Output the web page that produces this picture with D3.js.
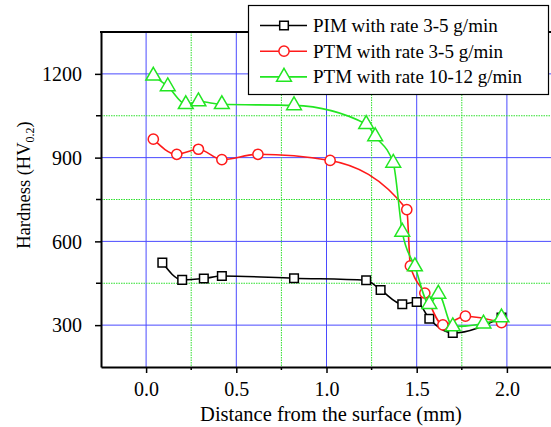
<!DOCTYPE html>
<html>
<head>
<meta charset="utf-8">
<script src="https://cdn.jsdelivr.net/npm/d3@7"></script>
<style>
  body { margin: 0; background: #fff; }
</style>
</head>
<body>
<script>
var width = 551;
var height = 427;
var font = "'Liberation Serif', Tinos, 'Times New Roman', Times, 'Nimbus Roman', 'DejaVu Serif', serif";

// data
var seriesNames = ["PIM with rate 3-5 g/min", "PTM with rate 3-5 g/min", "PTM with rate 10-12 g/min"];
var pimX = [0.09, 0.20, 0.32, 0.42, 0.82, 1.22, 1.30, 1.42, 1.50, 1.57, 1.70, 1.97];
var pimY = [524, 462, 467, 476, 468, 461, 426, 375, 383, 323, 272, 327];
var ptmLowX = [0.04, 0.17, 0.29, 0.42, 0.62, 1.02, 1.445, 1.465, 1.545, 1.645, 1.77, 1.97];
var ptmLowY = [966, 912, 930, 893, 912, 890, 714, 512, 415, 301, 332, 309];
var ptmHighX = [0.04, 0.12, 0.22, 0.29, 0.42, 0.82, 1.22, 1.27, 1.37, 1.42, 1.49, 1.57, 1.62, 1.70, 1.87, 1.97];
var ptmHighY = [1193, 1155, 1091, 1101, 1091, 1087, 1020, 976, 881, 634, 510, 375, 412, 295, 305, 327];
var xTicks = [0, 0.5, 1, 1.5, 2];
var xMinor = [0.25, 0.75, 1.25, 1.75];
var yTicks = [300, 600, 900, 1200];
var yMinor = [450, 750, 1050];

var colors = ["#000000", "#ff1a1a", "#22e622"];
var shapes = [d3.symbolSquare, d3.symbolCircle, d3.symbolTriangle];
var sizes = [74, 82, 95];

var svg = d3.select("body").append("svg").attr("width", width).attr("height", height)
    .style("font-family", font);

var x = d3.scaleLinear().domain([-0.25, 2.25]).range([101, 552]);
var y = d3.scaleLinear().domain([150, 1350]).range([367, 32]);

// grid
svg.selectAll(".gx").data(xTicks).enter().append("line")
    .attr("x1", d => x(d)).attr("x2", d => x(d)).attr("y1", y(1350)).attr("y2", y(150))
    .attr("stroke", "#4a4aff").attr("stroke-width", 1);
svg.selectAll(".gy").data(yTicks).enter().append("line")
    .attr("x1", x(-0.25)).attr("x2", x(2.25)).attr("y1", d => y(d)).attr("y2", d => y(d))
    .attr("stroke", "#4a4aff").attr("stroke-width", 1);
svg.selectAll(".gxm").data(xMinor).enter().append("line")
    .attr("x1", d => x(d)).attr("x2", d => x(d)).attr("y1", y(1350)).attr("y2", y(150))
    .attr("stroke", "#2ee02e").attr("stroke-width", 1).attr("stroke-dasharray", "1.5,1");
svg.selectAll(".gym").data(yMinor).enter().append("line")
    .attr("x1", x(-0.25)).attr("x2", x(2.25)).attr("y1", d => y(d)).attr("y2", d => y(d))
    .attr("stroke", "#2ee02e").attr("stroke-width", 1).attr("stroke-dasharray", "1.5,1");

// axes
var xAxis = svg.append("g").attr("transform", "translate(0," + y(150) + ")")
    .call(d3.axisBottom(x).tickValues(xTicks).tickFormat(d3.format(".1f")).tickSize(6).tickSizeOuter(0));
var yAxis = svg.append("g").attr("transform", "translate(" + x(-0.25) + ",0)")
    .call(d3.axisLeft(y).tickValues(yTicks).tickFormat(d3.format("d")).tickSize(6).tickSizeOuter(0));
[xAxis, yAxis].forEach(function (g) {
    g.attr("font-family", null);
    g.select(".domain").attr("stroke", "#000").attr("stroke-width", 2);
    g.selectAll(".tick line").attr("stroke", "#000").attr("stroke-width", 1.5);
    g.selectAll(".tick text").style("font-family", font).attr("font-size", 20).attr("fill", "#000");
});
xAxis.selectAll(".tick text").attr("dy", "1.0em");
yAxis.selectAll(".tick text").attr("x", -19).attr("dy", "0.34em");
xAxis.selectAll(".minor").data(xMinor).enter().append("line")
    .attr("x1", d => x(d)).attr("x2", d => x(d)).attr("y1", 0).attr("y2", 3)
    .attr("stroke", "#000").attr("stroke-width", 1.5);
yAxis.selectAll(".minor").data(yMinor).enter().append("line")
    .attr("x1", -5).attr("x2", 0).attr("y1", d => y(d)).attr("y2", d => y(d))
    .attr("stroke", "#000").attr("stroke-width", 1.5);
// top frame
svg.append("line").attr("x1", x(-0.25) - 1).attr("x2", x(2.25)).attr("y1", y(1350)).attr("y2", y(1350))
    .attr("stroke", "#000").attr("stroke-width", 2);

// axis titles
svg.append("text").attr("x", 331).attr("y", 421).attr("text-anchor", "middle")
    .attr("font-size", 20.5).text("Distance from the surface (mm)");
var yt = svg.append("text").attr("transform", "translate(30,185) rotate(-90)")
    .attr("text-anchor", "middle").attr("font-size", 18.5);
yt.append("tspan").text("Hardness (HV");
yt.append("tspan").attr("font-size", 12).attr("dy", 4).text("0.2");
yt.append("tspan").attr("dy", -4).text(")");

// series
var series = [
    { xs: pimX, ys: pimY },
    { xs: ptmLowX, ys: ptmLowY },
    { xs: ptmHighX, ys: ptmHighY }
];
var line = d3.line().x(d => x(d[0])).y(d => y(d[1])).curve(d3.curveMonotoneX);

series.forEach(function (s, i) {
    var pts = s.xs.map(function (v, j) { return [v, s.ys[j]]; });
    svg.append("path").datum(pts).attr("d", line)
        .attr("fill", "none").attr("stroke", colors[i]).attr("stroke-width", 1.6);
    svg.selectAll(".m" + i).data(pts).enter().append("path")
        .attr("d", d3.symbol().type(shapes[i]).size(sizes[i]))
        .attr("transform", d => "translate(" + x(d[0]) + "," + y(d[1]) + ")")
        .attr("fill", "#fff").attr("stroke", colors[i]).attr("stroke-width", 1.5);
});

// legend
var leg = svg.append("g");
leg.append("rect").attr("x", 248.5).attr("y", 5.5).attr("width", 300).attr("height", 89)
    .attr("fill", "#fff").attr("stroke", "#000").attr("stroke-width", 1.2);
seriesNames.forEach(function (name, i) {
    var ly = 25.5 + i * 25.7;
    leg.append("line").attr("x1", 260).attr("x2", 307).attr("y1", ly).attr("y2", ly)
        .attr("stroke", colors[i]).attr("stroke-width", 1.6);
    leg.append("path").attr("d", d3.symbol().type(shapes[i]).size(sizes[i]))
        .attr("transform", "translate(284," + ly + ")")
        .attr("fill", "#fff").attr("stroke", colors[i]).attr("stroke-width", 1.5);
    leg.append("text").attr("x", 313).attr("y", ly + 6.5).attr("font-size", 19).text(name);
});
</script>
</body>
</html>
